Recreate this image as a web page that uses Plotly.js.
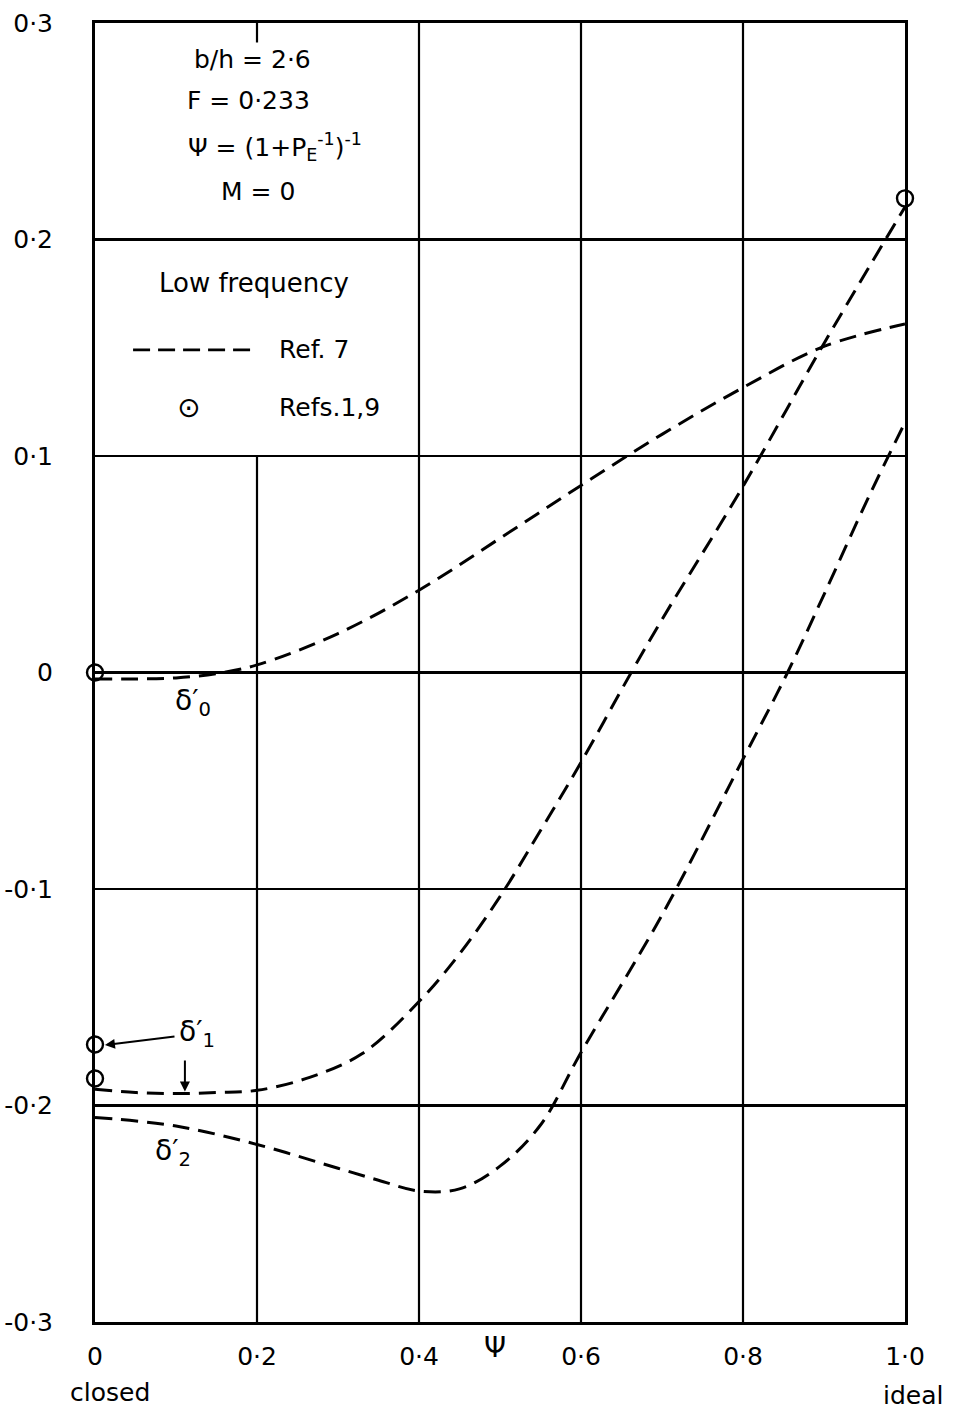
<!DOCTYPE html>
<html>
<head>
<meta charset="utf-8">
<script src="https://cdn.plot.ly/plotly-3.0.1.min.js"></script>
<style>html,body{margin:0;padding:0;background:#fff;}#chart{width:955px;height:1412px;}</style>
</head>
<body>
<div id="chart"></div>
<script>
// ---- data ----
const psi = [0, 0.05, 0.1, 0.15, 0.2, 0.3, 0.4, 0.5, 0.6, 0.7, 0.8, 0.9, 1.0];
const delta0 = [-0.003, -0.003, -0.0025, -0.0005, 0.0035, 0.018, 0.038, 0.062, 0.0864, 0.110, 0.1316, 0.1506, 0.161];

const psi1 = [0, 0.05, 0.1, 0.15, 0.2, 0.265, 0.33, 0.4, 0.45, 0.5, 0.55, 0.6, 0.662, 0.7, 0.8, 0.9, 1.0];
const delta1 = [-0.1925, -0.194, -0.1945, -0.194, -0.193, -0.187, -0.176, -0.152, -0.13, -0.1035, -0.073, -0.0415, 0, 0.0245, 0.086, 0.152, 0.215];

const psi2 = [0, 0.1, 0.2, 0.3, 0.35, 0.4, 0.45, 0.5, 0.55, 0.6, 0.7, 0.8, 0.855, 0.9, 0.955, 1.0];
const delta2 = [-0.2055, -0.2095, -0.218, -0.229, -0.2345, -0.2395, -0.2385, -0.228, -0.209, -0.1755, -0.112, -0.040, 0, 0.036, 0.081, 0.1155];

const refPsi = [0, 0, 0, 1.0];
const refVal = [0, -0.1718, -0.1875, 0.219];

const xTickVals = [0, 0.2, 0.4, 0.6, 0.8, 1.0];
const xTickText = ['0', '0·2', '0·4', '0·6', '0·8', '1·0'];
const yTickVals = [0.3, 0.2, 0.1, 0, -0.1, -0.2, -0.3];
const yTickText = ['0·3', '0·2', '0·1', '0', '-0·1', '-0·2', '-0·3'];

// ---- styling ----
const FONT = 'DejaVu Sans, Liberation Sans, sans-serif';
const dashed = {color: '#000', width: 3, dash: '17px,9px', shape: 'spline', smoothing: 1};

const traces = [
  {x: psi, y: delta0, mode: 'lines', line: dashed, hoverinfo: 'skip'},
  {x: psi1, y: delta1, mode: 'lines', line: dashed, hoverinfo: 'skip'},
  {x: psi2, y: delta2, mode: 'lines', line: dashed, hoverinfo: 'skip'},
  {x: refPsi, y: refVal, mode: 'markers', cliponaxis: false,
   marker: {symbol: 'circle-open', size: 16, color: '#000', line: {width: 2.4, color: '#000'}}}
];

// vertical grid lines built from tick values (0.2 line is interrupted by the note box)
const shapes = [];
xTickVals.slice(1, -1).forEach(v => {
  if (v === 0.2) {
    shapes.push({type: 'line', xref: 'x', yref: 'y', x0: v, x1: v, y0: -0.3, y1: 0.1, line: {color: '#000', width: 2.2}, layer: 'below'});
    shapes.push({type: 'line', xref: 'x', yref: 'y', x0: v, x1: v, y0: 0.3, y1: 0.291, line: {color: '#000', width: 2.2}, layer: 'below'});
  } else {
    shapes.push({type: 'line', xref: 'x', yref: 'y', x0: v, x1: v, y0: -0.3, y1: 0.3, line: {color: '#000', width: 2.2}, layer: 'below'});
  }
});
// legend sample line
shapes.push({type: 'line', xref: 'x', yref: 'y', x0: 0.047, x1: 0.2, y0: 0.149, y1: 0.149, line: {color: '#000', width: 2.8, dash: '17px,8px'}});

const txt = (text, x, y, size, extra) => Object.assign({
  text: text, x: x, y: y, xref: 'x', yref: 'y', showarrow: false,
  xanchor: 'center', yanchor: 'middle',
  font: {family: FONT, size: size || 25, color: '#000'}
}, extra || {});

const below = (text, x, y, size) => ({
  text: text, x: x, y: y, xref: 'paper', yref: 'paper', showarrow: false,
  xanchor: 'center', yanchor: 'middle',
  font: {family: FONT, size: size, color: '#000'}
});

const annotations = [
  txt('b/h = 2·6', 0.194, 0.283),
  txt('F = 0·233', 0.190, 0.2644),
  txt('Ψ = (1+P<sub>E</sub><sup>-1</sup>)<sup>-1</sup>', 0.222, 0.2427),
  txt('M = 0', 0.201, 0.222),
  txt('Low frequency', 0.196, 0.180, 26),
  txt('Ref. 7', 0.2247, 0.149, 25, {xanchor: 'left'}),
  txt('⊙', 0.115, 0.1226, 28),
  txt('Refs.1,9', 0.2247, 0.1226, 25, {xanchor: 'left'}),
  txt('δ′<sub>0</sub>', 0.121, -0.0137, 28),
  txt('δ′<sub>1</sub>', 0.126, -0.1666, 28),
  txt('δ′<sub>2</sub>', 0.096, -0.2215, 28),
  // arrows for δ'1
  {x: 0.0123, y: -0.1721, ax: 0.1, ay: -0.168, xref: 'x', yref: 'y', axref: 'x', ayref: 'y',
   text: '', showarrow: true, arrowhead: 2, arrowsize: 1, arrowwidth: 2, arrowcolor: '#000'},
  {x: 0.111, y: -0.1935, ax: 0.111, ay: -0.1785, xref: 'x', yref: 'y', axref: 'x', ayref: 'y',
   text: '', showarrow: true, arrowhead: 2, arrowsize: 1, arrowwidth: 2, arrowcolor: '#000'},
  // axis words
  below('Ψ', 0.494, -0.020, 28),
  below('closed', 0.0185, -0.0539, 25),
  below('ideal', 1.0099, -0.0562, 25)
];

const layout = {
  width: 955, height: 1412,
  margin: {l: 95, r: 50, t: 23, b: 90},
  paper_bgcolor: '#fff', plot_bgcolor: '#fff',
  showlegend: false,
  font: {family: FONT, color: '#000'},
  xaxis: {
    range: [0, 1.0], tickvals: xTickVals, ticktext: xTickText,
    showgrid: false, zeroline: false, showline: true, mirror: true,
    linecolor: '#000', linewidth: 3, ticks: '', ticklabelstandoff: 10,
    tickfont: {family: FONT, size: 25, color: '#000'}, fixedrange: true
  },
  yaxis: {
    range: [-0.3, 0.3], tickvals: yTickVals, ticktext: yTickText,
    showgrid: true, gridcolor: '#000', gridwidth: 2.2,
    zeroline: false, showline: true, mirror: true,
    linecolor: '#000', linewidth: 3, ticks: '', ticklabelstandoff: 34,
    tickfont: {family: FONT, size: 25, color: '#000'}, fixedrange: true
  },
  shapes: shapes,
  annotations: annotations
};

Plotly.newPlot('chart', traces, layout, {displayModeBar: false, staticPlot: true});
</script>
</body>
</html>
